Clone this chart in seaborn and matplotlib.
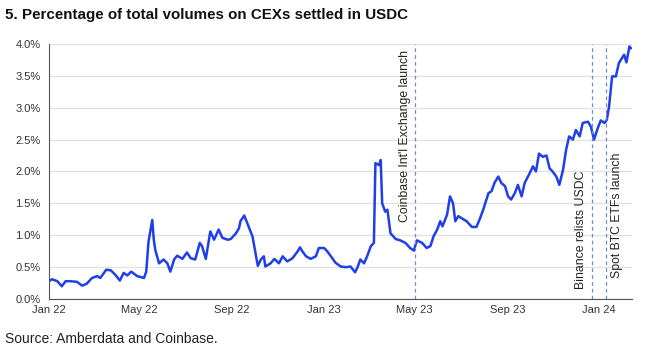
import matplotlib.pyplot as plt
from matplotlib.ticker import FuncFormatter
import pandas as pd
import seaborn as sns

# Values (% of CEX volume settled in USDC)
dates = [
    "2022-01-01", "2022-01-05", "2022-01-12", "2022-01-18", "2022-01-23", "2022-01-29",
    "2022-02-07", "2022-02-14", "2022-02-20", "2022-02-27", "2022-03-06", "2022-03-10",
    "2022-03-18", "2022-03-24", "2022-03-30", "2022-04-05", "2022-04-10", "2022-04-15",
    "2022-04-20", "2022-04-28", "2022-05-07", "2022-05-10", "2022-05-13", "2022-05-18",
    "2022-05-20", "2022-05-22", "2022-05-27", "2022-06-02", "2022-06-07", "2022-06-11",
    "2022-06-16", "2022-06-20", "2022-06-27", "2022-07-03", "2022-07-08", "2022-07-14",
    "2022-07-20", "2022-07-23", "2022-07-28", "2022-08-03", "2022-08-08", "2022-08-14",
    "2022-08-19", "2022-08-26", "2022-08-30", "2022-09-06", "2022-09-10", "2022-09-12",
    "2022-09-17", "2022-09-21", "2022-09-28", "2022-10-02", "2022-10-05", "2022-10-09",
    "2022-10-13", "2022-10-15", "2022-10-22", "2022-10-27", "2022-11-02", "2022-11-07",
    "2022-11-13", "2022-11-20", "2022-11-27", "2022-11-30", "2022-12-03", "2022-12-08",
    "2022-12-14", "2022-12-21", "2022-12-25", "2023-01-01", "2023-01-05", "2023-01-10",
    "2023-01-16", "2023-01-23", "2023-01-30", "2023-02-05", "2023-02-11", "2023-02-14",
    "2023-02-18", "2023-02-23", "2023-02-27", "2023-03-04", "2023-03-08", "2023-03-10",
    "2023-03-15", "2023-03-17", "2023-03-19", "2023-03-23", "2023-03-26", "2023-03-30",
    "2023-04-06", "2023-04-12", "2023-04-19", "2023-04-25", "2023-04-30", "2023-05-04",
    "2023-05-11", "2023-05-17", "2023-05-22", "2023-05-26", "2023-05-31", "2023-06-04",
    "2023-06-07", "2023-06-13", "2023-06-17", "2023-06-21", "2023-06-24", "2023-06-28",
    "2023-07-02", "2023-07-09", "2023-07-16", "2023-07-22", "2023-07-27", "2023-07-31",
    "2023-08-07", "2023-08-11", "2023-08-15", "2023-08-20", "2023-08-24", "2023-08-29",
    "2023-09-02", "2023-09-06", "2023-09-11", "2023-09-15", "2023-09-20", "2023-09-24",
    "2023-10-01", "2023-10-05", "2023-10-09", "2023-10-13", "2023-10-18", "2023-10-23",
    "2023-10-27", "2023-10-31", "2023-11-05", "2023-11-09", "2023-11-14", "2023-11-18",
    "2023-11-22", "2023-11-27", "2023-12-01", "2023-12-06", "2023-12-10", "2023-12-17",
    "2023-12-21", "2023-12-25", "2023-12-30", "2024-01-03", "2024-01-08", "2024-01-11",
    "2024-01-14", "2024-01-18", "2024-01-23", "2024-01-27", "2024-02-03", "2024-02-06",
    "2024-02-10", "2024-02-12",
]
usdc_share = [
    0.28, 0.31, 0.28, 0.20, 0.28, 0.28,
    0.27, 0.21, 0.24, 0.33, 0.36, 0.33,
    0.46, 0.45, 0.38, 0.29, 0.41, 0.37,
    0.43, 0.36, 0.33, 0.43, 0.90, 1.24,
    0.93, 0.77, 0.56, 0.62, 0.56, 0.43,
    0.62, 0.68, 0.63, 0.73, 0.64, 0.62,
    0.88, 0.83, 0.63, 1.06, 0.93, 1.09,
    0.96, 0.93, 0.94, 1.03, 1.11, 1.22,
    1.31, 1.19, 0.98, 0.72, 0.52, 0.62,
    0.67, 0.51, 0.56, 0.63, 0.56, 0.67,
    0.59, 0.64, 0.75, 0.81, 0.75, 0.67,
    0.63, 0.67, 0.80, 0.80, 0.75, 0.67,
    0.57, 0.51, 0.50, 0.51, 0.42, 0.49,
    0.62, 0.56, 0.67, 0.83, 0.88, 2.13,
    2.10, 2.18, 1.50, 1.37, 1.40, 1.03,
    0.94, 0.92, 0.88, 0.80, 0.76, 0.92,
    0.88, 0.80, 0.83, 0.98, 1.09, 1.22,
    1.14, 1.32, 1.61, 1.50, 1.22, 1.30,
    1.27, 1.22, 1.13, 1.13, 1.27, 1.40,
    1.66, 1.69, 1.82, 1.92, 1.82, 1.77,
    1.61, 1.56, 1.66, 1.79, 1.61, 1.82,
    1.98, 2.08, 2.00, 2.28, 2.23, 2.25,
    2.05, 2.00, 1.92, 1.79, 2.03, 2.34,
    2.55, 2.50, 2.65, 2.55, 2.76, 2.78,
    2.70, 2.50, 2.68, 2.80, 2.76, 2.81,
    3.02, 3.49, 3.49, 3.70, 3.83, 3.71,
    3.96, 3.93,
]

event_dates = ["2023-05-02", "2023-12-23", "2024-01-10"]
event_labels = ["Coinbase Int'l Exchange launch", "Binance relists USDC", "Spot BTC ETFs launch"]

tick_dates = ["2022-01-01", "2022-05-01", "2022-09-01", "2023-01-01",
              "2023-05-01", "2023-09-01", "2024-01-01"]
tick_labels = ["Jan 22", "May 22", "Sep 22", "Jan 23", "May 23", "Sep 23", "Jan 24"]

df = pd.DataFrame({"date": pd.to_datetime(dates), "share": usdc_share})

sns.set_style("white")
plt.rcParams["font.family"] = ["Liberation Sans", "DejaVu Sans"]

fig = plt.figure(figsize=(6.49, 3.51), dpi=100)
ax = fig.add_axes([0.0755, 0.148, 0.899, 0.727])

sns.lineplot(data=df, x="date", y="share", color="#1f3fe8", linewidth=1.8, ax=ax)

# event markers: dashed line + rotated label
# (label offset in days, anchor value, vertical alignment)
placements = [(-14, 3.9, "top"), (-15, 0.16, "bottom"), (15, 0.33, "bottom")]
for d, lab, (off, yv, va) in zip(event_dates, event_labels, placements):
    dt = pd.Timestamp(d)
    ax.axvline(dt, color="#6b8fc4", linestyle=(0, (3, 2.5)), linewidth=0.9)
    ax.text(dt + pd.Timedelta(days=off), yv, lab, rotation=90, ha="center", va=va,
            fontsize=8.8, color="#222222")

ax.set_xlim(pd.Timestamp("2022-01-01"), pd.Timestamp("2024-02-14"))
ax.set_ylim(0, 4.0)
ax.set_yticks([0, 0.5, 1.0, 1.5, 2.0, 2.5, 3.0, 3.5, 4.0])
ax.yaxis.set_major_formatter(FuncFormatter(lambda v, p: f"{v:.1f}%"))
ax.set_xticks(pd.to_datetime(tick_dates))
ax.set_xticklabels(tick_labels)
ax.set_xlabel("")
ax.set_ylabel("")

ax.grid(axis="y", color="#e3e3e3", linewidth=1.0)
ax.set_axisbelow(True)
for s in ["top", "right"]:
    ax.spines[s].set_visible(False)
ax.spines["left"].set_color("#555555")
ax.spines["bottom"].set_color("#555555")
ax.tick_params(axis="x", direction="inout", length=4, color="#555555", labelsize=8,
               labelcolor="#333333", pad=2)
ax.tick_params(axis="y", length=0, labelsize=8, labelcolor="#333333", pad=6)

fig.text(0.008, 0.958, "5. Percentage of total volumes on CEXs settled in USDC",
         fontsize=10.9, fontweight="bold", color="#111111", va="center", ha="left")
fig.text(0.008, 0.035, "Source: Amberdata and Coinbase.", fontsize=10,
         color="#222222", va="center", ha="left")

fig.savefig("out.png", dpi=100)
